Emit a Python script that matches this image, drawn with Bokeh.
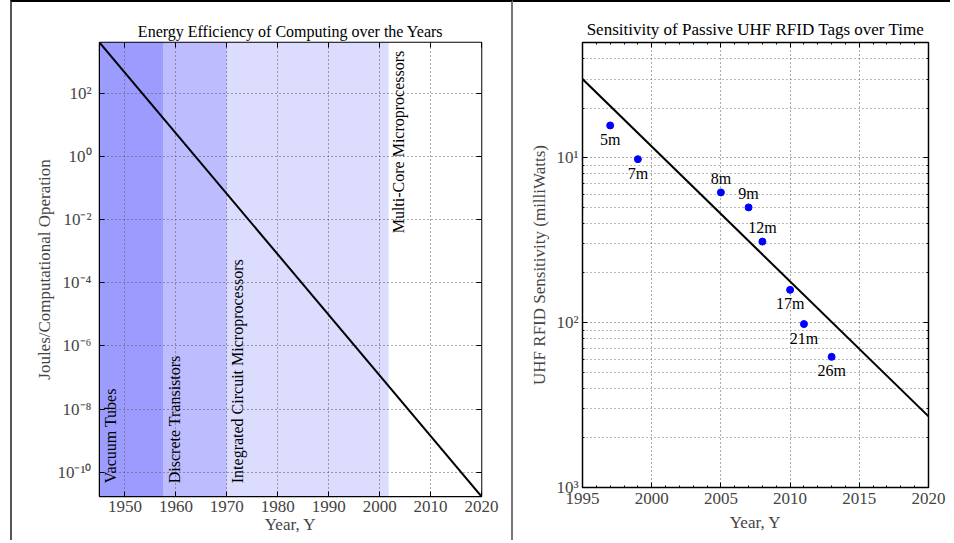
import math
from bokeh.plotting import figure
from bokeh.models import (Range1d, FixedTicker, LinearAxis, LogAxis, CustomJSTickFormatter,
                          SingleIntervalTicker)
from bokeh.layouts import row
from bokeh.core.properties import value
from bokeh.embed import file_html
from bokeh.resources import INLINE

# ---------------- data ----------------
# Left: energy efficiency of computing
eff_years = [1945, 2020]
eff_joules = [10 ** 3.61, 10 ** -10.77]
era_names = ["Vacuum Tubes", "Discrete Transistors", "Integrated Circuit Microprocessors",
             "Multi-Core Microprocessors"]
era_start = [1945, 1957.6, 1970.0, 2001.8]
era_end = [1957.6, 1970.0, 2001.8, 2020]
left_xticks = [1950, 1960, 1970, 1980, 1990, 2000, 2010, 2020]
left_yticks = [1e2, 1e0, 1e-2, 1e-4, 1e-6, 1e-8, 1e-10]

# Right: sensitivity of passive UHF RFID tags
rfid_line_years = [1995, 2020]
rfid_line_mw = [0.30, 0.0027]
tag_years = [1997, 1999, 2005, 2007, 2008, 2010, 2011, 2013]
tag_mw = [0.157, 0.098, 0.0616, 0.050, 0.031, 0.0158, 0.0098, 0.0062]
tag_range = ["5m", "7m", "8m", "9m", "12m", "17m", "21m", "26m"]
right_yticks = [1e-1, 1e-2, 1e-3]
right_yminor = [m * 10.0 ** d for d in (-3, -2, -1) for m in range(2, 10)]
right_ylim = (1e-3, 0.5)

# ---------------- style ----------------
FONT = "Liberation Serif"
FS = "17px"
era_colors = ["#9c9cff", "#bcbcff", "#dcdcff", "#ffffff"]
label_above = {"8m", "9m", "12m"}

sup_js = """
const sup = {'-':'\u207b','0':'\u2070','1':'\u00b9','2':'\u00b2','3':'\u00b3','4':'\u2074',
             '5':'\u2075','6':'\u2076','7':'\u2077','8':'\u2078','9':'\u2079'};
const e = Math.round(Math.log10(tick));
const s = String(%s);
return '10' + s.split('').map(c => sup[c]).join('');
"""


def style_common(p):
    p.outline_line_color = "black"
    p.outline_line_width = 1.5
    p.background_fill_color = "white"
    p.border_fill_color = "white"
    for ax in (p.xaxis + p.yaxis):
        ax.axis_label_text_font = FONT
        ax.axis_label_text_font_size = FS
        ax.axis_label_text_font_style = "normal"
        ax.major_label_text_font = FONT
        ax.major_label_text_font_size = FS
        ax.major_tick_in = 5
        ax.major_tick_out = 0
        ax.minor_tick_in = 2
        ax.minor_tick_out = 0
        ax.axis_line_color = "black"
        ax.major_tick_line_color = "black"
        ax.minor_tick_line_color = "black"


def mirror_axes(p, xticker, yticker, title, title_size, title_gap):
    top = LinearAxis(ticker=xticker)
    right = LogAxis(ticker=yticker)
    for ax in (top, right):
        ax.major_label_text_font_size = "1px"
        ax.major_label_text_color = None
        ax.major_label_standoff = 0
        ax.major_tick_in = 5
        ax.major_tick_out = 0
        ax.minor_tick_in = 2
        ax.minor_tick_out = 0
        ax.axis_line_color = None
        ax.major_tick_line_color = "black"
        ax.minor_tick_line_color = "black"
    # the chart title is drawn as the label of the top (mirrored) axis
    top.axis_label = title
    top.axis_label_text_font = FONT
    top.axis_label_text_font_size = title_size
    top.axis_label_text_font_style = "normal"
    top.axis_label_text_color = "black"
    top.axis_label_standoff = title_gap
    p.add_layout(top, "above")
    p.add_layout(right, "right")


def dotted_grid(p):
    for g in (p.xgrid, p.ygrid):
        g.grid_line_color = "#555555"
        g.grid_line_dash = "1 3"
        g.grid_line_width = 1


# ---------------- left figure ----------------
ymin, ymax = min(eff_joules), max(eff_joules)
p1 = figure(frame_width=378, frame_height=452, output_backend="svg", toolbar_location=None,
            title_location=None,
            x_range=Range1d(min(eff_years), max(eff_years)),
            y_range=Range1d(ymin, ymax), y_axis_type="log",
            min_border_left=87, min_border_right=34, min_border_top=36, min_border_bottom=50)
p1.quad(left=era_start, right=era_end, bottom=ymin, top=ymax, fill_color=era_colors,
        line_color=None, level="image")
p1.line(eff_years, eff_joules, line_color="black", line_width=2)

p1.text(x=era_start[:3], y=[ymin * 10 ** 0.42] * 3, text=era_names[:3], angle=math.pi / 2,
        x_offset=11, text_align="left", text_baseline="middle",
        text_font=value(FONT), text_font_size="16px", text_color="black")
p1.text(x=era_start[3:], y=[ymax / 10 ** 0.26], text=era_names[3:], angle=math.pi / 2,
        x_offset=10, text_align="right", text_baseline="middle",
        text_font=value(FONT), text_font_size="16px", text_color="black")

p1.xaxis.ticker = FixedTicker(ticks=left_xticks)
p1.yaxis.ticker = FixedTicker(ticks=left_yticks)
p1.yaxis.formatter = CustomJSTickFormatter(code=sup_js % "e")
p1.xaxis.axis_label = "Year, Y"
p1.yaxis.axis_label = "Joules/Computational Operation"
dotted_grid(p1)
style_common(p1)
p1.yaxis.major_label_standoff = 8
p1.yaxis.axis_label_standoff = 0
p1.xaxis.major_label_standoff = 4
p1.xaxis.axis_label_standoff = 0
mirror_axes(p1, FixedTicker(ticks=left_xticks), FixedTicker(ticks=left_yticks),
            "Energy Efficiency of Computing over the Years", "16px", 3)
p1.margin = (0, 0, 0, 10)
p1.styles = {"border-top": "2px solid black", "border-left": "2px solid #555555",
             "border-right": "2px solid #777777"}

# ---------------- right figure ----------------
p2 = figure(frame_width=346, frame_height=443, output_backend="svg", toolbar_location=None,
            title_location=None,
            x_range=Range1d(min(rfid_line_years), max(rfid_line_years)),
            y_range=Range1d(*right_ylim), y_axis_type="log",
            min_border_left=69, min_border_right=22, min_border_top=40, min_border_bottom=53)
p2.line(rfid_line_years, rfid_line_mw, line_color="black", line_width=2)
p2.scatter(tag_years, tag_mw, size=7, fill_color="#0000ff", line_color="#0000ff")

below_idx = [i for i, t in enumerate(tag_range) if t not in label_above]
above_idx = [i for i, t in enumerate(tag_range) if t in label_above]
for idx, off in ((below_idx, 14), (above_idx, -14)):
    p2.text(x=[tag_years[i] for i in idx], y=[tag_mw[i] for i in idx],
            text=[tag_range[i] for i in idx], y_offset=off, text_align="center",
            text_baseline="middle", text_font=value(FONT), text_font_size="16px",
            text_color="black")

p2.xaxis.ticker = SingleIntervalTicker(interval=5, num_minor_ticks=5)
p2.yaxis.ticker = FixedTicker(ticks=right_yticks, minor_ticks=right_yminor)
p2.yaxis.formatter = CustomJSTickFormatter(code=sup_js % "Math.abs(e)")
p2.xaxis.axis_label = "Year, Y"
p2.yaxis.axis_label = "UHF RFID Sensitivity (milliWatts)"
dotted_grid(p2)
p2.ygrid.minor_grid_line_color = "#777777"
p2.ygrid.minor_grid_line_dash = "1 3"
style_common(p2)
p2.yaxis.major_label_standoff = 4
p2.yaxis.axis_label_standoff = 4
p2.xaxis.major_label_standoff = 5
p2.xaxis.axis_label_standoff = 6
mirror_axes(p2, SingleIntervalTicker(interval=5, num_minor_ticks=5),
            FixedTicker(ticks=right_yticks, minor_ticks=right_yminor),
            "Sensitivity of Passive UHF RFID Tags over Time", "17px", 4)
p2.margin = (0, 0, 0, 0)
p2.styles = {"border-top": "2px solid black"}

layout = row(p1, p2)
open("out.html", "w").write(file_html(layout, INLINE))
